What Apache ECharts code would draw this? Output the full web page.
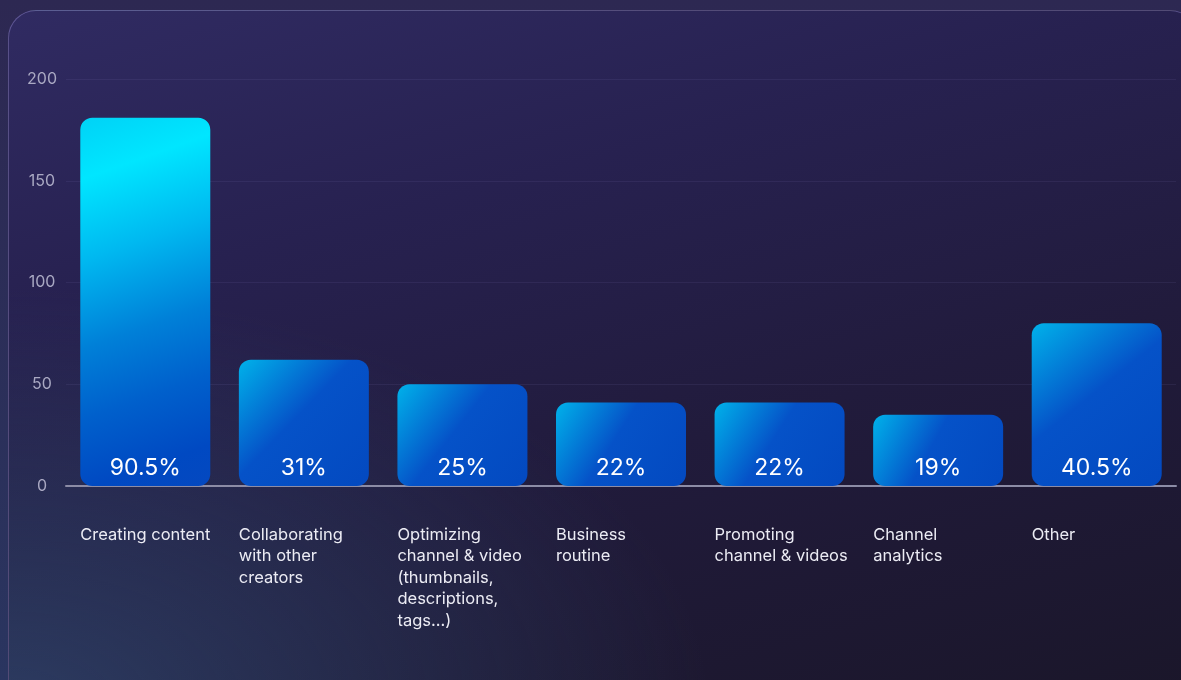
<!DOCTYPE html>
<html>
<head>
<meta charset="utf-8">
<script src="https://cdn.jsdelivr.net/npm/echarts@6/dist/echarts.min.js"></script>
<style>
  html, body { margin: 0; padding: 0; width: 1181px; height: 680px; overflow: hidden; }
  body {
    background: linear-gradient(180deg, #2d2852 0%, #2a3560 100%);
    font-family: Inter, "Noto Sans", sans-serif;
  }
  #card {
    position: absolute; left: 8px; top: 10px; width: 1190px; height: 700px;
    border: 1.5px solid rgba(150, 140, 210, 0.45);
    border-radius: 28px;
    box-sizing: border-box;
    background:
      radial-gradient(ellipse 700px 420px at 0% 100%, rgba(48, 70, 110, 0.75), rgba(48, 70, 110, 0) 100%),
      linear-gradient(165deg, #302b62 0%, #272150 30%, #211b3c 60%, #1a1629 100%);
  }
  #chart { position: absolute; left: 0; top: 0; width: 1181px; height: 680px; }
</style>
</head>
<body>
<div id="card"></div>
<div id="chart"></div>
<script>
// Survey: how creators split their time
const categories = [
  'Creating content',
  'Collaborating\nwith other\ncreators',
  'Optimizing\nchannel & video\n(thumbnails,\ndescriptions,\ntags...)',
  'Business\nroutine',
  'Promoting\nchannel & videos',
  'Channel\nanalytics',
  'Other'
];
// respondents per answer
const counts = [181, 62, 50, 41, 41, 35, 80];
// share of respondents, shown inside each bar
const shareLabels = ['90.5%', '31%', '25%', '22%', '22%', '19%', '40.5%'];
const yTicks = [0, 50, 100, 150, 200];

const chart = echarts.init(document.getElementById('chart'), null, { renderer: 'canvas' });

// leading answer gets a brighter, longer cyan fade
const leadGradient = new echarts.graphic.LinearGradient(0, 0, 1, 1, [
  { offset: 0, color: '#00d2f6' },
  { offset: 0.15, color: '#00e6ff' },
  { offset: 0.35, color: '#00b8f0' },
  { offset: 0.56, color: '#0080d8' },
  { offset: 0.73, color: '#0060cc' },
  { offset: 0.9, color: '#0049c2' },
  { offset: 1, color: '#0448c0' }
]);
const barGradient = new echarts.graphic.LinearGradient(0, 0, 1, 1, [
  { offset: 0, color: '#00b2ea' },
  { offset: 0.45, color: '#0552c8' },
  { offset: 1, color: '#0349c0' }
]);

const barData = counts.map((v, i) => ({
  value: v,
  itemStyle: { color: i === 0 ? leadGradient : barGradient }
}));

const font = 'Inter, "Noto Sans", sans-serif';

chart.setOption({
  backgroundColor: 'transparent',
  animation: false,
  grid: { left: 66, right: 5, top: 79, bottom: 194, containLabel: false },
  xAxis: {
    type: 'category',
    data: categories,
    axisTick: { show: false },
    axisLine: { show: true, lineStyle: { color: '#8c8ca6', width: 2 } },
    axisLabel: {
      interval: 0,
      margin: 38,
      align: 'center',
      verticalAlign: 'top',
      width: 130,
      formatter: v => '{t|' + v + '}',
      rich: {
        t: {
          align: 'left',
          width: 130,
          color: '#ececf4',
          fontFamily: font,
          fontSize: 16.5,
          lineHeight: 21.5
        }
      }
    }
  },
  yAxis: {
    type: 'value',
    min: yTicks[0],
    max: yTicks[yTicks.length - 1],
    interval: 50,
    axisLine: { show: false },
    axisTick: { show: false },
    splitLine: { lineStyle: { color: 'rgba(150,140,210,0.10)', width: 1 } },
    axisLabel: {
      margin: 24,
      align: 'center',
      color: '#a9a8c2',
      fontFamily: font,
      fontSize: 16
    }
  },
  series: [{
    type: 'bar',
    data: barData,
    barWidth: 130,
    itemStyle: { borderRadius: 12 },
    label: {
      show: true,
      position: 'insideBottom',
      distance: 6,
      formatter: p => shareLabels[p.dataIndex],
      color: '#ffffff',
      fontFamily: font,
      fontSize: 23
    }
  }]
});
</script>
</body>
</html>
